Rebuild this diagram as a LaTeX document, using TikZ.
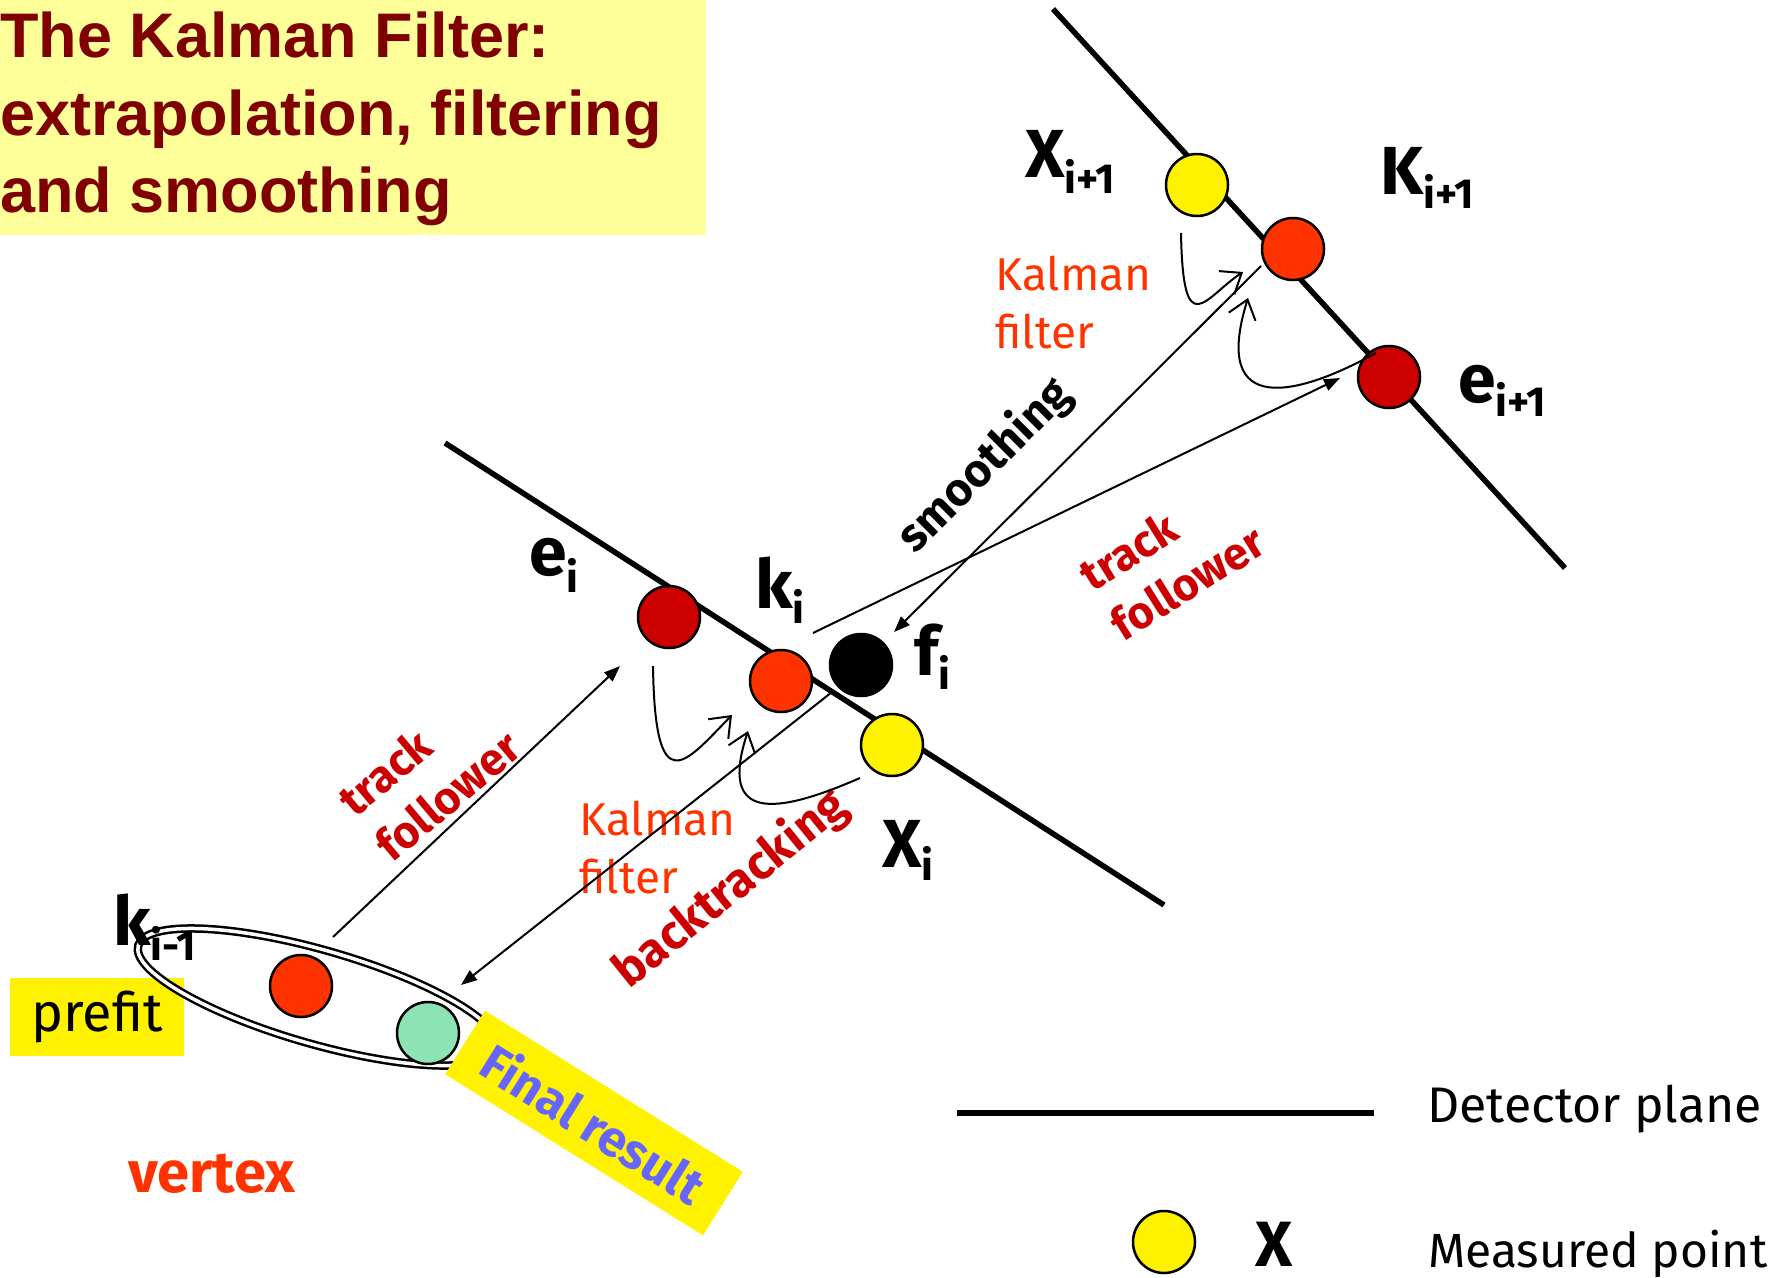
\documentclass[tikz,border=0pt]{standalone}
\usepackage{fontspec}
\setmainfont{Fira Sans}
\newfontfamily\titlefont{Liberation Sans}
\usetikzlibrary{arrows.meta}
\definecolor{titlebg}{HTML}{FFFF99}
\definecolor{titlered}{HTML}{800000}
\definecolor{darkred}{HTML}{CC0000}
\definecolor{orred}{HTML}{FF3300}
\definecolor{mint}{RGB}{140,228,180}
\definecolor{violetblue}{HTML}{6666FF}
\newcommand{\subtxt}[2]{\raisebox{-#1}{\fontsize{42}{42}\selectfont #2}}
\begin{document}
\begin{tikzpicture}[x=1pt,y=1pt,
  plane/.style={line width=5.5pt},
  dot/.style={circle, draw=black, line width=2.5pt, minimum size=62pt, inner sep=0pt},
  conn/.style={line width=2pt, -{Triangle[length=16pt,width=12pt]}},
  curv/.style={line width=2pt, -{Straight Barb[length=18pt,width=28pt]}},
  titletext/.style={anchor=base west, inner sep=0pt, text=titlered, font=\titlefont\bfseries\fontsize{63}{63}\selectfont},
  lbl/.style={anchor=base west, inner sep=0pt, font=\bfseries\fontsize{68}{68}\selectfont},
  kalman/.style={anchor=base west, inner sep=0pt, text=orred, font=\fontsize{46}{46}\selectfont},
  rottext/.style={align=left, inner sep=0pt, font=\bfseries\fontsize{45}{58}\selectfont},
  legendtext/.style={anchor=base west, inner sep=0pt}
]
\useasboundingbox (0,0) rectangle (1780,-1277);
% title
\fill[titlebg] (0,0) rectangle (706,-235);
\node[titletext] (t1) at (0,-57) {The Kalman Filter:};
\node[titletext] (t2) at (0,-135) {extrapolation, filtering};
\node[titletext] (t3) at (0,-212) {and smoothing};
% detector planes
\draw[plane] (445,-443) -- (1164,-905);
\draw[plane] (1053,-9) -- (1565,-568);
% prefit box and ellipse
\node[fill=yellow, minimum width=174pt, minimum height=78pt, inner sep=0pt, font=\fontsize{54}{54}\selectfont] (prefit) at (97,-1017) {prefit};
\draw[line width=2.5pt, double=white, double distance=3.5pt, rotate around={-16:(318,-997)}] (318,-997) ellipse [x radius=187, y radius=47];
% circles
\node[dot, fill=darkred] (ei) at (669,-617) {};
\node[dot, fill=orred] (ki) at (781,-681) {};
\node[dot, fill=black] (fi) at (861,-665) {};
\node[dot, fill=yellow] (xi) at (892,-745) {};
\node[dot, fill=yellow] (xi1) at (1197,-185) {};
\node[dot, fill=orred] (ki1) at (1293,-249) {};
\node[dot, fill=darkred] (ei1) at (1389,-377) {};
\node[dot, fill=orred] (kim1) at (301,-986) {};
\node[dot, fill=mint] (final) at (428,-1033) {};
% final result box
\node[fill=yellow, rotate=-32, minimum width=304pt, minimum height=75pt, inner sep=0pt, text=violetblue, font=\bfseries\fontsize{50}{50}\selectfont] (fr) at (594,-1123) {Final result};
% labels
\node[lbl] (lxi1) at (1025,-177) {X\subtxt{16pt}{i+1}};
\node[lbl] (lki1) at (1380,-194) {K\subtxt{14pt}{i+1}};
\node[lbl] (lei1) at (1458,-402) {e\subtxt{14pt}{i+1}};
\node[lbl] (lei) at (529,-575) {e\subtxt{17pt}{i}};
\node[lbl] (lki) at (755,-608) {k\subtxt{15pt}{i}};
\node[lbl] (lfi) at (914,-675) {f\subtxt{14pt}{i}};
\node[lbl] (lxi) at (882,-867) {X\subtxt{13pt}{i}};
\node[lbl] (lkim1) at (113,-945) {k\subtxt{15pt}{i-1}};
% texts
\node[kalman] (kf1a) at (995,-290) {Kalman};
\node[kalman] (kf1b) at (995,-348) {filter};
\node[kalman] (kf2a) at (579,-835) {Kalman};
\node[kalman] (kf2b) at (579,-893) {filter};
\node[rottext, text=darkred, rotate=40] (tf1) at (429,-773) {track\\follower};
\node[rottext, text=darkred, rotate=32] (tf2) at (1172,-558) {track\\follower};
\node[rottext, rotate=45, font=\bfseries\fontsize{46}{46}\selectfont] (sm) at (985,-466) {smoothing};
\node[rottext, text=darkred, rotate=39, font=\bfseries\fontsize{48}{48}\selectfont] (bt) at (731,-889) {backtracking};
\node[anchor=base west, inner sep=0pt, text=orred, font=\bfseries\fontsize{58}{58}\selectfont] (vx) at (128,-1192) {vertex};
% legend
\coordinate (lg1) at (957,-1113);
\coordinate (lg2) at (1374,-1113);
\draw[plane] (lg1) -- (lg2);
\node[legendtext, font=\fontsize{50}{50}\selectfont] (ldp) at (1427,-1122) {Detector plane};
\node[dot, fill=yellow] (lgdot) at (1164,-1242) {};
\node[font=\bfseries\fontsize{64}{64}\selectfont, inner sep=1pt] (lgx) at (1274,-1244) {X};
\node[legendtext, font=\fontsize{48}{48}\selectfont] (lmp) at (1428,-1267) {Measured point};
% connectors
\coordinate (a1s) at (333,-937);
\coordinate (a1e) at (620,-666);
\draw[conn] (a1s) -- (a1e);
\coordinate (a2s) at (832,-692);
\coordinate (a2e) at (461,-985);
\draw[conn] (a2s) -- (a2e);
\coordinate (a7s) at (1261,-266);
\coordinate (a7e) at (894,-632);
\draw[conn] (a7s) -- (a7e);
\coordinate (a8s) at (813,-633);
\coordinate (a8e) at (1340,-378);
\draw[conn] (a8s) -- (a8e);
\coordinate (a3s) at (653,-666);
\coordinate (a3e) at (732,-715);
\draw[curv] (a3s) .. controls (655,-805) and (686,-762) .. (a3e);
\coordinate (a4s) at (860,-778);
\coordinate (a4e) at (748,-731);
\draw[curv] (a4s) .. controls (775,-815) and (718,-822) .. (a4e);
\coordinate (a5s) at (1181,-233);
\coordinate (a5e) at (1243,-272);
\draw[curv] (a5s) .. controls (1183,-345) and (1205,-297) .. (a5e);
\coordinate (a6s) at (1376,-353);
\coordinate (a6e) at (1248,-298);
\draw[curv] (a6s) .. controls (1300,-395) and (1210,-420) .. (a6e);
\end{tikzpicture}
\end{document}
